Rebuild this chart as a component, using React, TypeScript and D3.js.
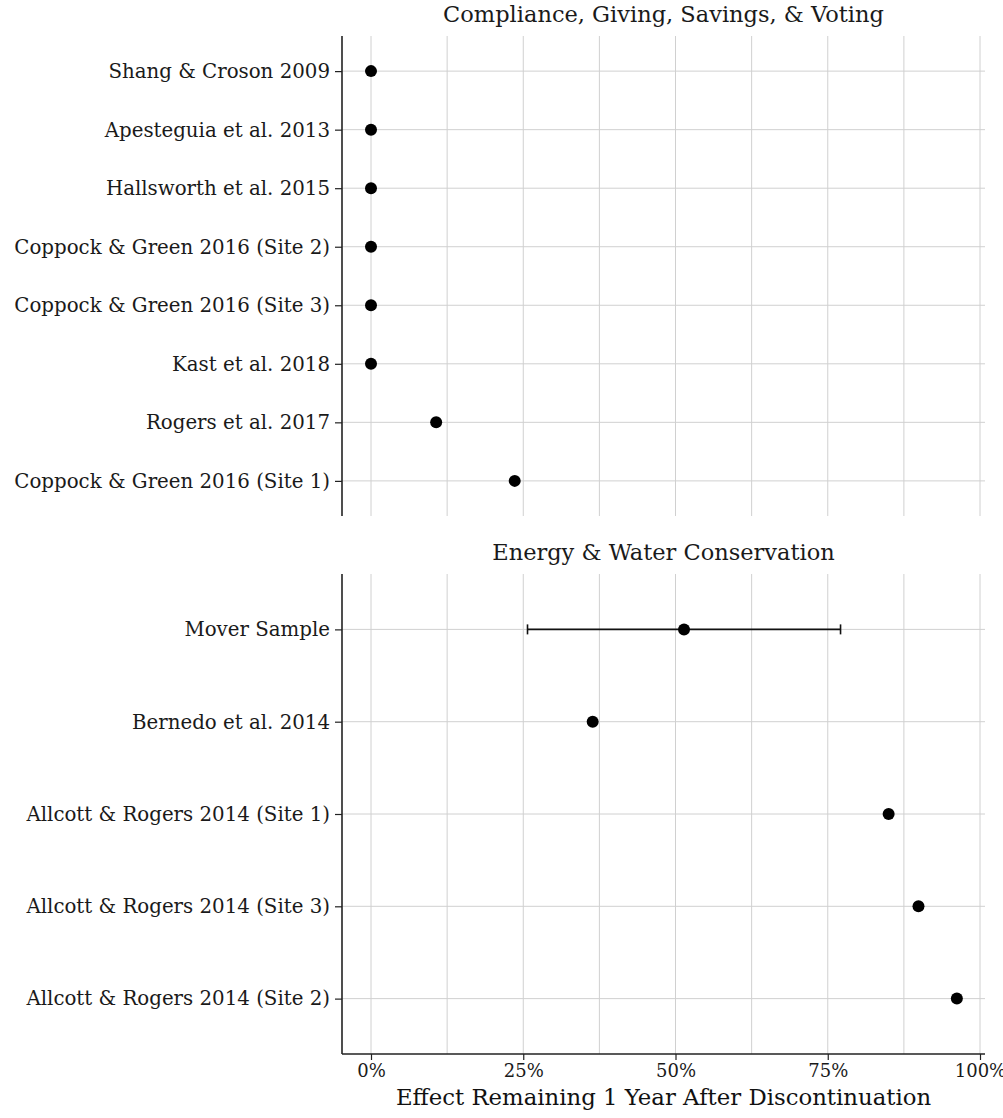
import * as d3 from "d3";
import React, { useEffect, useRef } from "react";

// Panel 1: compliance, giving, savings & voting
const complianceStudies = [
  "Shang & Croson 2009",
  "Apesteguia et al. 2013",
  "Hallsworth et al. 2015",
  "Coppock & Green 2016 (Site 2)",
  "Coppock & Green 2016 (Site 3)",
  "Kast et al. 2018",
  "Rogers et al. 2017",
  "Coppock & Green 2016 (Site 1)",
];
const complianceEffects = [0, 0, 0, 0, 0, 0, 0.107, 0.236];

// Panel 2: energy & water conservation
const energyStudies = [
  "Mover Sample",
  "Bernedo et al. 2014",
  "Allcott & Rogers 2014 (Site 1)",
  "Allcott & Rogers 2014 (Site 3)",
  "Allcott & Rogers 2014 (Site 2)",
];
const energyEffects = [0.514, 0.364, 0.85, 0.899, 0.962];
const energyLower = [0.257, null, null, null, null];
const energyUpper = [0.771, null, null, null, null];

const xTickValues = [0, 0.25, 0.5, 0.75, 1];
const xGridValues = [0, 0.125, 0.25, 0.375, 0.5, 0.625, 0.75, 0.875, 1];

const panelTitles = ["Compliance, Giving, Savings, & Voting", "Energy & Water Conservation"];
const xTitle = "Effect Remaining 1 Year After Discontinuation";

const FONT = "'DejaVu Serif', serif";

export default function App() {
  const ref = useRef<SVGSVGElement>(null);

  useEffect(() => {
    const width = 1003;
    const height = 1118;
    const svg = d3.select(ref.current);
    svg.selectAll("*").remove();

    const left = 342;
    const right = 985;
    const x = d3.scaleLinear([0, 1], [371, 980]);

    const panels = [
      { title: panelTitles[0], cats: complianceStudies, vals: complianceEffects, lo: complianceEffects.map(() => null), hi: complianceEffects.map(() => null), top: 36, bottom: 516 },
      { title: panelTitles[1], cats: energyStudies, vals: energyEffects, lo: energyLower, hi: energyUpper, top: 574, bottom: 1054 },
    ];

    panels.forEach((p, pi) => {
      const y = d3.scalePoint(p.cats, [p.top, p.bottom]).padding(0.6);
      const g = svg.append("g");

      // titulo del panel
      g.append("text")
        .attr("x", (left + right) / 2)
        .attr("y", p.top - 14)
        .attr("text-anchor", "middle")
        .attr("font-family", FONT)
        .attr("font-size", 22.5)
        .attr("fill", "#1a1a1a")
        .text(p.title);

      // rejilla vertical
      g.append("g")
        .selectAll("line")
        .data(xGridValues)
        .join("line")
        .attr("x1", (d) => x(d))
        .attr("x2", (d) => x(d))
        .attr("y1", p.top)
        .attr("y2", p.bottom)
        .attr("stroke", "#d0d0d0")
        .attr("stroke-width", 1);

      // rejilla horizontal
      g.append("g")
        .selectAll("line")
        .data(p.cats)
        .join("line")
        .attr("x1", left)
        .attr("x2", right)
        .attr("y1", (d) => y(d)!)
        .attr("y2", (d) => y(d)!)
        .attr("stroke", "#d0d0d0")
        .attr("stroke-width", 1);

      // eje y
      g.append("g")
        .attr("transform", `translate(${left},0)`)
        .call(d3.axisLeft(y).tickSize(7).tickPadding(5).tickSizeOuter(0))
        .call((a) => a.select(".domain").attr("stroke", "#222").attr("stroke-width", 1.6).attr("d", `M0,${p.top}V${p.bottom}`))
        .call((a) => a.selectAll(".tick line").attr("stroke", "#222").attr("stroke-width", 1.2))
        .call((a) =>
          a.selectAll(".tick text")
            .attr("font-family", FONT)
            .attr("font-size", 19.8)
            .attr("fill", "#1a1a1a")
        );

      // barras de error
      const idx = d3.range(p.cats.length).filter((i) => p.lo[i] != null);
      const eb = g.append("g").selectAll("g").data(idx).join("g");
      eb.append("line")
        .attr("x1", (i) => x(p.lo[i] as number))
        .attr("x2", (i) => x(p.hi[i] as number))
        .attr("y1", (i) => y(p.cats[i])!)
        .attr("y2", (i) => y(p.cats[i])!)
        .attr("stroke", "#111")
        .attr("stroke-width", 1.6);
      [p.lo, p.hi].forEach((arr) => {
        eb.append("line")
          .attr("x1", (i) => x(arr[i] as number))
          .attr("x2", (i) => x(arr[i] as number))
          .attr("y1", (i) => y(p.cats[i])! - 5)
          .attr("y2", (i) => y(p.cats[i])! + 5)
          .attr("stroke", "#111")
          .attr("stroke-width", 1.6);
      });

      // puntos
      g.append("g")
        .selectAll("circle")
        .data(d3.range(p.cats.length))
        .join("circle")
        .attr("cx", (i) => x(p.vals[i]))
        .attr("cy", (i) => y(p.cats[i])!)
        .attr("r", 6)
        .attr("fill", "#000");

      if (pi === 1) {
        svg.append("g")
          .attr("transform", `translate(0,${p.bottom})`)
          .call(d3.axisBottom(x).tickValues(xTickValues).tickFormat(d3.format(".0%")).tickSize(6).tickPadding(4).tickSizeOuter(0))
          .call((a) => a.select(".domain").attr("stroke", "#222").attr("stroke-width", 1.6).attr("d", `M${left},0H${right}`))
          .call((a) => a.selectAll(".tick line").attr("stroke", "#222").attr("stroke-width", 1.2))
          .call((a) =>
            a.selectAll(".tick text")
              .attr("font-family", FONT)
              .attr("font-size", 18)
              .attr("fill", "#1a1a1a")
          );

        svg.append("text")
          .attr("x", (left + right) / 2)
          .attr("y", height - 13)
          .attr("text-anchor", "middle")
          .attr("font-family", FONT)
          .attr("font-size", 22.8)
          .attr("fill", "#111")
          .text(xTitle);
      }
    });

    svg.attr("width", width).attr("height", height);
  }, []);

  return (
    <svg
      ref={ref}
      width={1003}
      height={1118}
      style={{ position: "absolute", left: 0, top: 0, background: "#fff" }}
    ></svg>
  );
}
